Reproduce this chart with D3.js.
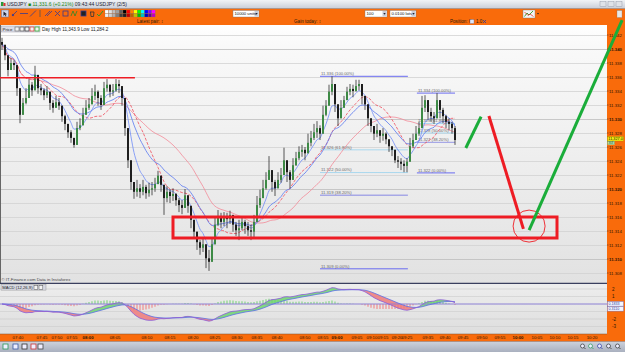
<!DOCTYPE html>
<html><head><meta charset="utf-8">
<script src="https://cdn.jsdelivr.net/npm/d3@7"></script>
<style>
html,body{margin:0;padding:0;background:#fff;overflow:hidden}
svg{display:block;font-family:"Liberation Sans",Arial,sans-serif}
</style></head><body>
<svg id="chart" width="625" height="352"></svg>
<script>
// ================= DATA =================
const BASE_PRICE = 11.3;           // price = BASE_PRICE + ticks / 10000
const firstOpenTick = 410;
const closeTicks = [406,391,370,380,377,344,306,323,330,349,
 341,363,344,341,334,339,323,316,324,319,
 304,293,281,273,263,287,291,306,316,321,
 333,339,330,320,344,349,339,341,350,347,
 330,287,241,210,196,201,196,203,194,199,
 201,207,219,206,187,196,190,193,184,177,
 173,191,176,156,139,124,116,121,101,96,
 121,149,161,153,159,157,163,149,141,144,
 153,147,141,139,153,177,187,201,213,227,
 210,201,213,220,241,224,213,234,244,253,
 256,251,266,273,281,287,279,306,319,339,
 350,321,301,316,327,339,343,340,347,350,
 333,321,301,290,279,284,276,279,271,261,
 256,241,239,236,233,239,261,270,279,287,
 316,327,310,304,301,327,313,304,296,293,
 287,270];
const highTicks = [416,401,391,387,384,356,334,330,344,357,
 353,376,356,350,344,347,333,327,333,330,
 316,306,291,284,273,296,301,316,327,330,
 344,349,341,334,353,357,347,350,357,356,
 341,306,270,234,209,213,207,213,206,209,
 210,216,226,217,204,204,200,201,194,187,
 184,200,184,170,153,134,127,130,116,113,
 130,159,170,166,167,166,169,159,153,156,
 160,156,153,149,163,190,199,213,224,247,
 220,213,224,230,259,234,227,244,253,261,
 263,260,279,283,293,297,291,319,327,349,
 361,331,316,327,333,346,350,349,356,356,
 344,333,313,301,290,293,284,287,281,270,
 261,250,247,244,241,244,273,279,290,296,
 333,334,321,316,310,337,324,316,306,301,
 296,290];
const lowTicks = [399,384,361,370,370,333,294,313,321,334,
 333,347,336,334,327,330,313,309,316,313,
 296,284,273,266,259,279,284,299,307,313,
 323,327,319,313,334,339,331,333,339,337,
 319,276,230,199,186,189,187,191,186,189,
 191,196,207,196,163,181,180,183,176,167,
 164,179,166,144,130,113,106,110,87,83,
 113,133,147,144,147,144,150,139,133,127,
 141,136,133,127,130,166,173,190,199,213,
 196,190,203,209,227,210,201,224,233,241,
 246,241,256,261,270,273,270,296,304,321,
 334,310,290,304,316,330,334,331,339,341,
 321,313,290,281,270,274,266,269,264,253,
 247,237,230,227,224,224,251,259,270,276,
 306,310,299,296,293,316,301,294,287,284,
 279,263];

const priceTicks = [11.308,11.310,11.312,11.314,11.316,11.318,11.320,11.322,11.324,
 11.326,11.328,11.330,11.332,11.334,11.336,11.338,11.340,11.342];
const macdGridTicks = [2, 1, 0, -1, -2, -3];
const macdTickLabels = [2, 1, -2, -3];   // "-1" is hidden behind the value boxes

const timeLabels = ["07:40","07:45","07:50","07:55","08:00","08:05","08:10","08:15","08:20",
 "08:25","08:30","08:35","08:40","08:50","08:55","09:00","09:05","09:10","09:15","09:20",
 "09:25","09:35","09:40","09:45","09:50","09:55","10:00","10:05","10:10","10:15","10:20"];
const timeLabelIndex = [5.3,13.3,18.3,23.3,28.7,37.7,48.3,56,63.7,
 71,78.3,85,91.7,101,107,111.7,118.3,123.3,127,131.7,
 135,142,147.7,153.7,160,166,172,178.3,184.3,190.3,196.7];

const fibRatios = [1, 0.618, 0.5, 0.382, 0];
const fib1Span = [106, 135.3], fib1HighLow = [11.3361, 11.3086];
const fib2Span = [138.3, 151],  fib2HighLow = [11.3337, 11.3223];

const resistanceLevel = 11.3359, resistanceSpan = [-1, 44.3];
const zoneSpan = [57, 185], zonePrices = [11.3130, 11.3160];
const targetPoint = [175.7, 11.3147];
const arrowGreenSmall = [[154.6, 11.32586], [159.7, 11.33033]];
const arrowRed = [[162.3, 11.33043], [173.8, 11.3143]];
const arrowGreenBig = [[175.7, 11.31414], [206.7, 11.34414]];

const dayHigh = "11,343.9", dayLow = "11,284.2";
const lastQty = "368";
const macdUnit = 600;   // MACD shown in units of 1/600 of a price point

// ================= SETUP =================
const W = 625, H = 352;
const ORANGE = "#f96b0b";
const plot = {left: 0, right: 607, top: 25, bottom: 283};
const mac = {top: 284, bottom: 334};
const svg = d3.select("#chart");

const x = d3.scaleLinear().domain([0, 201]).range([2, 605]);
const y = d3.scaleLinear().domain([11.310, 11.340]).range([259, 49]);
const ym = d3.scaleLinear().domain([-3, 2]).range([326.5, 289]);

const P = t => BASE_PRICE + t / 10000;
const candles = closeTicks.map((c, i) => {
  const o = P(i ? closeTicks[i - 1] : firstOpenTick), cl = P(c);
  return {i, o, c: cl, h: Math.max(P(highTicks[i]), o, cl), l: Math.min(P(lowTicks[i]), o, cl)};
});
const closes = candles.map(d => d.c);
function ema(arr, n) { const k = 2 / (n + 1); let p = arr[0]; return arr.map((v, i) => i === 0 ? p : (p = v * k + p * (1 - k))); }
function sma(arr, n) { return arr.map((v, i) => d3.mean(arr.slice(Math.max(0, i - n + 1), i + 1))); }

const defs = svg.append("defs");
function vgrad(id, stops) {
  const g = defs.append("linearGradient").attr("id", id).attr("x1", 0).attr("x2", 0).attr("y1", 0).attr("y2", 1);
  stops.forEach(([o, c]) => g.append("stop").attr("offset", o).attr("stop-color", c));
}
vgrad("gTitle", [[0, "#f1f3f6"], [1, "#c9ced8"]]);
vgrad("gChart", [[0, "#ffffff"], [0.08, "#f9f9f9"], [1, "#e2e2e2"]]);
vgrad("gMacd", [[0, "#ededed"], [1, "#dedede"]]);
vgrad("gBottom", [[0, "#cdd2dc"], [1, "#a9b0bf"]]);
defs.append("clipPath").attr("id", "cMain").append("rect")
  .attr("x", plot.left).attr("y", plot.top).attr("width", plot.right - plot.left).attr("height", plot.bottom - plot.top);
defs.append("clipPath").attr("id", "cMacd").append("rect")
  .attr("x", 0).attr("y", mac.top).attr("width", plot.right).attr("height", mac.bottom - mac.top);

// ================= CHROME =================
svg.append("rect").attr("width", W).attr("height", H).attr("fill", ORANGE);
svg.append("rect").attr("width", W).attr("height", 8.5).attr("fill", "url(#gTitle)");
svg.append("line").attr("x1", 0).attr("x2", W).attr("y1", 8.5).attr("y2", 8.5).attr("stroke", "#8a8f99").attr("stroke-width", 0.6);
svg.append("rect").attr("x", 1).attr("y", 2).attr("width", 2.5).attr("height", 4).attr("fill", "#2a9a3a");
svg.append("rect").attr("x", 3.5).attr("y", 3).attr("width", 2).attr("height", 3).attr("fill", "#d33");
const tt = svg.append("text").attr("x", 7).attr("y", 6.3).attr("font-size", 5).attr("fill", "#223");
tt.append("tspan").text("USDJPY ");
tt.append("tspan").attr("fill", "#1a8a1a").text("\u25A0 11,331.6 (+0.21%) ");
tt.append("tspan").text("09:43:44 USDJPY (2/5)");
[600, 608, 616].forEach(bx => svg.append("rect").attr("x", bx).attr("y", 1.5).attr("width", 6).attr("height", 5)
  .attr("fill", "#dfe2e8").attr("stroke", "#8890a0").attr("stroke-width", 0.4));

// toolbar
svg.append("rect").attr("x", 1.5).attr("y", 10).attr("width", 7).attr("height", 7).attr("fill", "#cfd6ea").attr("stroke", "#6670a0").attr("stroke-width", 0.5);
svg.append("path").attr("d", "M3.5,11.5 L3.5,16 L4.7,14.8 L5.8,16.5 L6.4,16.1 L5.4,14.4 L7,14.3 Z").attr("fill", "#223");
const ic = svg.append("g").attr("stroke", "#3a3a8f").attr("stroke-width", 0.8).attr("fill", "none");
ic.append("path").attr("d", "M12,16 L17,11");
ic.append("circle").attr("cx", 13).attr("cy", 15).attr("r", 0.8).attr("fill", "#3a3a8f");
ic.append("path").attr("d", "M20,13.5 L28,13.5");
ic.append("path").attr("d", "M30,16.5 L36,10.5");
ic.append("path").attr("d", "M40,10 L40,17").attr("stroke", "#555");
ic.append("path").attr("d", "M45,16 L50,11 M47,16 L52,11");
ic.append("path").attr("d", "M55,16 L60,11 M55,11 L60,16");
ic.append("rect").attr("x", 63).attr("y", 11).attr("width", 5).attr("height", 5);
ic.append("path").attr("d", "M71,16 L73,11 L75,16 L77,11").attr("stroke", "#2a8a2a");
ic.append("rect").attr("x", 81).attr("y", 11).attr("width", 5).attr("height", 5).attr("fill", "#222");
ic.append("path").attr("d", "M90,12 L94,12 M90.5,12 L91,16.5 L93.5,16.5 L94,12").attr("stroke", "#333");
ic.append("path").attr("d", "M97,14 L99,16 L103,11").attr("stroke", "#2a9a2a").attr("stroke-width", 1);
const pal = ["#ffffff","#e0e0e0","#c0c0c0","#a0a0a0","#606060","#000000","#ff0000","#ff8000","#ffff00","#00ff00","#00ffff","#0000ff","#8000ff","#ff00ff",
             "#f0f0f0","#d0d0d0","#b0b0b0","#808080","#404040","#202020","#c00000","#c06000","#c0c000","#00c000","#00c0c0","#0000c0","#600090","#c000c0"];
pal.forEach((c, k) => svg.append("rect").attr("x", 105 + (k % 14) * 3.6).attr("y", 10 + Math.floor(k / 14) * 3.6)
  .attr("width", 3.4).attr("height", 3.4).attr("fill", c).attr("stroke", "#777").attr("stroke-width", 0.2));
function field(fx, fw, label) {
  svg.append("rect").attr("x", fx).attr("y", 10.5).attr("width", fw).attr("height", 6.5).attr("fill", "#fff").attr("stroke", "#7a7a7a").attr("stroke-width", 0.4);
  svg.append("rect").attr("x", fx + fw - 4.5).attr("y", 11).attr("width", 4).attr("height", 5.5).attr("fill", "#c8ccd8");
  svg.append("path").attr("d", `M${fx + fw - 3.7},13 L${fx + fw - 1.3},13 L${fx + fw - 2.5},14.8 Z`).attr("fill", "#223");
  svg.append("text").attr("x", fx + 1.5).attr("y", 15.4).attr("font-size", 4.2).attr("fill", "#111").text(label);
}
field(233, 26, "10000 units");
field(365, 22, "100");
field(390, 26, "0.0100 lots");
svg.append("rect").attr("x", 523).attr("y", 10).attr("width", 12).attr("height", 8).attr("fill", "#f4f4f4").attr("stroke", "#777").attr("stroke-width", 0.4);
svg.append("path").attr("d", "M524.5,16.5 L527,13 L529,15 L533,11").attr("stroke", "#2a9a2a").attr("fill", "none").attr("stroke-width", 0.9);
svg.append("path").attr("d", "M524.5,12 L528,15.5 L530,14 L533.5,16.5").attr("stroke", "#d22").attr("fill", "none").attr("stroke-width", 0.7);
svg.append("path").attr("d", "M537,13 L539,13 L538,14.5 Z").attr("fill", "#222");
svg.append("rect").attr("x", 617).attr("y", 10.5).attr("width", 5).attr("height", 7).attr("fill", "#e8e8e8").attr("stroke", "#777").attr("stroke-width", 0.3);

// info row
const info = svg.append("g").attr("font-size", 4.6).attr("fill", "#2a1a0a");
info.append("text").attr("x", 137).attr("y", 23.4).text("Latest pair:  \u2195");
info.append("text").attr("x", 294).attr("y", 23.4).text("Gain today:  \u2195");
info.append("text").attr("x", 450).attr("y", 23.4).text("Position: 0");
svg.append("rect").attr("x", 470).attr("y", 19.5).attr("width", 4).attr("height", 4).attr("fill", "#dfe6f5").attr("stroke", "#557").attr("stroke-width", 0.3);
info.append("text").attr("x", 476).attr("y", 23.4).text("1.0");
svg.append("path").attr("d", "M483,20 L486,23 M486,20 L483,23").attr("stroke", "#2a3a9a").attr("stroke-width", 0.8);

// ================= MAIN PLOT =================
svg.append("rect").attr("x", plot.left).attr("y", plot.top).attr("width", plot.right - plot.left).attr("height", plot.bottom - plot.top).attr("fill", "url(#gChart)");
const grid = svg.append("g").attr("clip-path", "url(#cMain)");
priceTicks.forEach(p => {
  const major = Math.abs(p * 100 - Math.round(p * 100)) < 1e-6;
  grid.append("line").attr("x1", plot.left).attr("x2", plot.right).attr("y1", Math.round(y(p)) + 0.5).attr("y2", Math.round(y(p)) + 0.5)
    .attr("stroke", major ? "#bcbcbc" : "#d2d2d2").attr("stroke-width", 0.8);
});
svg.append("line").attr("x1", 0.5).attr("x2", 0.5).attr("y1", plot.top).attr("y2", plot.bottom).attr("stroke", "#666").attr("stroke-width", 1);

const main = svg.append("g").attr("clip-path", "url(#cMain)");

// fibonacci retracements
function drawFib(span, hl) {
  fibRatios.forEach(r => {
    const p = hl[1] + r * (hl[0] - hl[1]);
    const col = (r === 1 || r === 0) ? "#6a6cf0" : (r === 0.382 ? "#a7a8e6" : "#a9d8ee");
    main.append("line").attr("x1", x(span[0])).attr("x2", x(span[1])).attr("y1", y(p)).attr("y2", y(p))
      .attr("stroke", col).attr("stroke-width", r === 0.382 ? 1.3 : 1);
    main.append("text").attr("x", x(span[0]) + 1).attr("y", y(p) - 1.2).attr("font-size", 4.2).attr("fill", "#6a6a6a")
      .text(`${p.toFixed(3)} (${(r * 100).toFixed(2)}%)`);
  });
}
drawFib(fib1Span, fib1HighLow);
drawFib(fib2Span, fib2HighLow);

// moving averages
const maDefs = [
  {v: sma(closes, 30), c: "#f28a98", w: 0.8, d: null},
  {v: sma(closes, 14), c: "#ef4b5c", w: 0.8, d: "3,1.5"},
  {v: ema(closes, 16), c: "#5a78f0", w: 0.8, d: null},
  {v: ema(closes, 6),  c: "#6f8cf7", w: 0.8, d: null}
];
maDefs.forEach(m => main.append("path").datum(m.v)
  .attr("d", d3.line().x((v, i) => x(i)).y(v => y(v)).curve(d3.curveMonotoneX))
  .attr("fill", "none").attr("stroke", m.c).attr("stroke-width", m.w).attr("stroke-dasharray", m.d));

// candles
const cg = main.append("g");
cg.selectAll("line.w").data(candles).join("line").attr("class", "w")
  .attr("x1", d => x(d.i)).attr("x2", d => x(d.i)).attr("y1", d => y(d.h)).attr("y2", d => y(d.l))
  .attr("stroke", "#2d2d2d").attr("stroke-width", 0.8);
cg.selectAll("rect").data(candles).join("rect")
  .attr("x", d => x(d.i) - 1).attr("width", 2)
  .attr("y", d => y(Math.max(d.o, d.c)))
  .attr("height", d => Math.max(0.8, Math.abs(y(d.o) - y(d.c))))
  .attr("fill", d => d.c >= d.o ? "#3d8a45" : "#1e1e1e");

// resistance line
main.append("line").attr("x1", x(resistanceSpan[0])).attr("x2", x(resistanceSpan[1]))
  .attr("y1", y(resistanceLevel)).attr("y2", y(resistanceLevel)).attr("stroke", "#ee1c24").attr("stroke-width", 1.4);

// day high/low label
svg.append("rect").attr("x", 1).attr("y", 26).attr("width", 39).attr("height", 6).attr("fill", "#dcdce6").attr("stroke", "#8a8a9a").attr("stroke-width", 0.4);
svg.append("text").attr("x", 2.5).attr("y", 30.9).attr("font-size", 4.4).attr("fill", "#222").text("Price");
[["#777",15],["#555",20],["#333",25],["#d33",30],["#2a2",35]].forEach(([c, ix]) =>
  svg.append("rect").attr("x", ix).attr("y", 27).attr("width", 4).attr("height", 4).attr("fill", "#f4f4f4").attr("stroke", c).attr("stroke-width", 0.7));
svg.append("text").attr("x", 42).attr("y", 31).attr("font-size", 4.6).attr("fill", "#222").text(`Day High ${dayHigh} Low ${dayLow}`);

// copyright
svg.append("text").attr("x", 1.5).attr("y", 281).attr("font-size", 4.3).attr("fill", "#444").text("\u00A9 IT-Finance.com   Data in Instaforex");

// ================= RIGHT AXIS =================
const ax = svg.append("g").attr("font-size", 4.3).attr("fill", "#2a1505");
priceTicks.forEach(p => {
  const major = Math.abs(p * 100 - Math.round(p * 100)) < 1e-6;
  ax.append("text").attr("x", 609).attr("y", y(p) + 1.8).attr("font-weight", major ? "bold" : "normal").text(p.toFixed(3));
  ax.append("line").attr("x1", 607).attr("x2", 608.5).attr("y1", y(p)).attr("y2", y(p)).attr("stroke", "#333").attr("stroke-width", 0.5);
});
const lastC = closes[closes.length - 1];
const ly = y(lastC);
svg.append("rect").attr("x", 607.5).attr("y", ly - 3.4).attr("width", 16).attr("height", 4.4).attr("fill", "#f4ee10").attr("stroke", "#8a8200").attr("stroke-width", 0.3);
svg.append("text").attr("x", 608.3).attr("y", ly + 0.2).attr("font-size", 3.8).attr("fill", "#111").text(d3.format(",.1f")(lastC * 1000));
svg.append("rect").attr("x", 607.5).attr("y", ly + 1.2).attr("width", 7).attr("height", 3.6).attr("fill", "#bff0bf").attr("stroke", "#4a8a4a").attr("stroke-width", 0.3);
svg.append("text").attr("x", 608.3).attr("y", ly + 4.0).attr("font-size", 3.0).attr("fill", "#114411").text(lastQty);

// ================= MACD PANEL =================
svg.append("line").attr("x1", 0).attr("x2", plot.right).attr("y1", 283.3).attr("y2", 283.3).attr("stroke", "#3a3f5e").attr("stroke-width", 1.3);
svg.append("rect").attr("x", 0).attr("y", mac.top).attr("width", plot.right).attr("height", mac.bottom - mac.top).attr("fill", "url(#gMacd)");
macdGridTicks.forEach(t => svg.append("line").attr("x1", 0).attr("x2", plot.right).attr("y1", ym(t)).attr("y2", ym(t))
  .attr("stroke", "#cbcbcb").attr("stroke-width", 0.6));
const e12 = ema(closes, 12), e26 = ema(closes, 26);
const macd = e12.map((v, i) => (v - e26[i]) * macdUnit);
const signal = ema(macd, 9);
const mg = svg.append("g").attr("clip-path", "url(#cMacd)");
mg.selectAll("line.h").data(macd).join("line").attr("class", "h")
  .attr("x1", (v, i) => x(i)).attr("x2", (v, i) => x(i)).attr("y1", ym(0)).attr("y2", (v, i) => ym(v - signal[i]))
  .attr("stroke", (v, i) => v >= signal[i] ? "#86d686" : "#f08e8e").attr("stroke-width", 1.2);
for (let i = 0; i < macd.length - 1; i++) {
  const up = macd[i] + macd[i + 1] >= signal[i] + signal[i + 1];
  mg.append("path").attr("d", `M${x(i)},${ym(macd[i])}L${x(i + 1)},${ym(macd[i + 1])}L${x(i + 1)},${ym(signal[i + 1])}L${x(i)},${ym(signal[i])}Z`)
    .attr("fill", up ? "#6fd46f" : "#ef7a7a").attr("opacity", 0.85);
}
mg.append("line").attr("x1", 0).attr("x2", plot.right).attr("y1", ym(0)).attr("y2", ym(0)).attr("stroke", "#8c80dc").attr("stroke-width", 0.9);
mg.append("path").datum(signal).attr("d", d3.line().x((v, i) => x(i)).y(v => ym(v)))
  .attr("fill", "none").attr("stroke", "#5b6ee8").attr("stroke-width", 0.8);
mg.append("path").datum(macd).attr("d", d3.line().x((v, i) => x(i)).y(v => ym(v)))
  .attr("fill", "none").attr("stroke", "#8a5ad8").attr("stroke-width", 0.8);
svg.append("rect").attr("x", 1).attr("y", 284.6).attr("width", 45).attr("height", 5.5).attr("fill", "#d6d8e2").attr("stroke", "#888").attr("stroke-width", 0.4);
svg.append("text").attr("x", 2.3).attr("y", 289).attr("font-size", 4.2).attr("fill", "#222").text("MACD (12,26,9)");
[34, 39].forEach(ix => svg.append("rect").attr("x", ix).attr("y", 285.5).attr("width", 3.8).attr("height", 3.8).attr("fill", "#f4f4f4").attr("stroke", "#555").attr("stroke-width", 0.5));
macdTickLabels.forEach(t => svg.append("text").attr("x", 612).attr("y", ym(t) + 1.6).attr("font-size", 4.5).attr("fill", "#2a1505").text(t));
[[macd[macd.length - 1], 301.5], [signal[signal.length - 1], 306.5]].forEach(([v, by]) => {
  svg.append("rect").attr("x", 607.5).attr("y", by).attr("width", 16).attr("height", 4.6).attr("fill", "#f4f6ff").attr("stroke", "#5a6ad0").attr("stroke-width", 0.4);
  svg.append("text").attr("x", 608.5).attr("y", by + 3.6).attr("font-size", 3.6).attr("fill", "#2a3aa0").text(d3.format(".4f")(v));
});

// ================= TIME AXIS & BOTTOM BAR =================
svg.append("line").attr("x1", 0).attr("x2", plot.right).attr("y1", mac.bottom).attr("y2", mac.bottom).attr("stroke", "#7a5030").attr("stroke-width", 0.5);
timeLabels.forEach((t, k) => svg.append("text").attr("x", x(timeLabelIndex[k])).attr("y", 339.3).attr("text-anchor", "middle")
  .attr("font-size", 4.3).attr("font-weight", t.endsWith(":00") ? "bold" : "normal").attr("fill", "#2a1505").text(t));
svg.append("rect").attr("x", 0).attr("y", 341.5).attr("width", W).attr("height", H - 341.5).attr("fill", "url(#gBottom)");
svg.append("line").attr("x1", 0).attr("x2", W).attr("y1", 341.5).attr("y2", 341.5).attr("stroke", "#7a8090").attr("stroke-width", 0.5);
[[3, "#2a9a5a"], [13, "#3a5aa0"], [22, "#333"], [31, "#c33"], [38, "#444"]].forEach(([bx, c]) =>
  svg.append("rect").attr("x", bx).attr("y", 344).attr("width", 5).attr("height", 5).attr("fill", "#eef").attr("stroke", c).attr("stroke-width", 0.8));
[[580, "#333"], [588, "#2a9a5a"], [597, "#2a3aa0"], [606, "#333"], [615, "#333"]].forEach(([bx, c]) => {
  svg.append("circle").attr("cx", bx + 2.5).attr("cy", 346).attr("r", 2).attr("fill", "#eef").attr("stroke", c).attr("stroke-width", 0.7);
  svg.append("line").attr("x1", bx + 4).attr("y1", 347.5).attr("x2", bx + 5.5).attr("y2", 349).attr("stroke", c).attr("stroke-width", 0.8);
});

// ================= ANNOTATIONS (drawn on top) =================
svg.append("rect").attr("x", x(zoneSpan[0])).attr("y", y(zonePrices[1]))
  .attr("width", x(zoneSpan[1]) - x(zoneSpan[0])).attr("height", y(zonePrices[0]) - y(zonePrices[1]))
  .attr("fill", "none").attr("stroke", "#ee1c24").attr("stroke-width", 3);
svg.append("circle").attr("cx", x(targetPoint[0])).attr("cy", y(targetPoint[1])).attr("r", 16)
  .attr("fill", "none").attr("stroke", "#ee1c24").attr("stroke-width", 0.9);
const seg = d3.line().x(d => x(d[0])).y(d => y(d[1]));
[[arrowGreenSmall, "#1aad3a"], [arrowRed, "#ee1c24"], [arrowGreenBig, "#1aad3a"]].forEach(([pts, c]) =>
  svg.append("path").attr("d", seg(pts)).attr("stroke", c).attr("stroke-width", 3).attr("fill", "none"));
</script>
</body></html>
